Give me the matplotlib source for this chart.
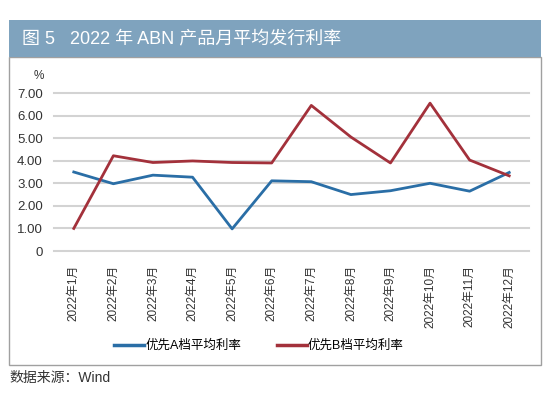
import matplotlib
matplotlib.use("Agg")
import matplotlib.pyplot as plt
from matplotlib.patches import Rectangle
from matplotlib.lines import Line2D

plt.rcParams['font.family'] = ['Liberation Sans', 'Noto Sans CJK SC', 'DejaVu Sans']

months = ["2022年1月", "2022年2月", "2022年3月", "2022年4月", "2022年5月", "2022年6月",
          "2022年7月", "2022年8月", "2022年9月", "2022年10月", "2022年11月", "2022年12月"]
series_a = [3.50, 2.98, 3.36, 3.27, 0.98, 3.11, 3.07, 2.50, 2.67, 3.00, 2.65, 3.48]
series_b = [1.00, 4.22, 3.92, 3.99, 3.92, 3.90, 6.45, 5.05, 3.90, 6.55, 4.03, 3.33]
yticks = [0, 1, 2, 3, 4, 5, 6, 7]
yticklabels = ["0", "1.00", "2.00", "3.00", "4.00", "5.00", "6.00", "7.00"]
name_a = "优先A档平均利率"
name_b = "优先B档平均利率"
title = "图 5   2022 年 ABN 产品月平均发行利率"
source = "数据来源：Wind"

W, H = 550, 394
fig = plt.figure(figsize=(W / 100, H / 100), dpi=100)

def fx(x):
    return x / W

def fy(y):
    return 1 - y / H

# frame
fig.patches.append(Rectangle((fx(9), fy(365)), fx(541) - fx(9), fy(57) - fy(365),
                             transform=fig.transFigure, facecolor='none',
                             edgecolor='#a0a0a0', linewidth=1.0, zorder=-1))
# header band
fig.patches.append(Rectangle((fx(9), fy(57)), fx(541) - fx(9), fy(20) - fy(57),
                             transform=fig.transFigure, facecolor='#7fa3be',
                             edgecolor='none', zorder=-1))
fig.text(fx(22), fy(38.5), title, color='white', fontsize=13, va='center', ha='left')

ax = fig.add_axes([fx(54), fy(251), fx(529) - fx(54), fy(93) - fy(251)])
ax.patch.set_alpha(0)
x = list(range(len(months)))
ax.plot(x, series_a, color='#2a6ea6', linewidth=2.0, label=name_a, zorder=3)
ax.plot(x, series_b, color='#a3313b', linewidth=2.0, label=name_b, zorder=3)
ax.set_xlim(-0.5, len(months) - 0.5)
ax.set_ylim(0, 7)
ax.set_yticks(yticks)
ax.set_yticklabels(yticklabels, fontsize=9.5, color='#333333')
ax.set_xticks(x)
ax.set_xticklabels(months, rotation=90, fontsize=8.5, color='#333333', va='top')
ax.tick_params(axis='both', length=0)
ax.tick_params(axis='y', pad=8)
ax.tick_params(axis='x', pad=10)
ax.grid(axis='y', color='#d3d3d3', linewidth=1.5, clip_on=False)
ax.set_axisbelow(True)
for s in ax.spines.values():
    s.set_visible(False)
ax.text(-0.032, 1.108, "%", transform=ax.transAxes, fontsize=8.5, color='#333333',
        ha='center', va='center')

handles = [Line2D([], [], color='#2a6ea6', linewidth=2.5),
           Line2D([], [], color='#a3313b', linewidth=2.5)]
fig.legend(handles, [name_a, name_b], loc='center', bbox_to_anchor=(fx(259), fy(346)),
           ncol=2, frameon=False, fontsize=9, handlelength=2.4, handletextpad=0.1,
           columnspacing=2.8)

fig.text(fx(9), fy(378), source, fontsize=10, color='#333333', va='center', ha='left')

fig.savefig("out.png", dpi=100)
